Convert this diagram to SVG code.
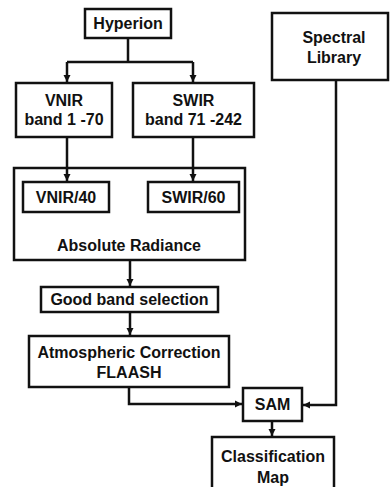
<svg xmlns="http://www.w3.org/2000/svg" width="391" height="487" viewBox="0 0 391 487">
<style>
.box{fill:#fff;stroke:#111;stroke-width:2.5}
.t{font-family:"Liberation Sans",Arial,sans-serif;font-weight:bold;font-size:16px;fill:#111;text-anchor:middle}
.c{fill:none;stroke:#111;stroke-width:2.5}
</style>
<defs>
<marker id="ah" markerUnits="userSpaceOnUse" markerWidth="8" markerHeight="8" refX="7" refY="4" orient="auto">
<path d="M0,0.5 L7,4 L0,7.5 z" fill="#111"/>
</marker>
</defs>
<rect width="391" height="487" fill="#fff"/>
<g id="absolute-radiance">
<rect class="box" x="14" y="168" width="231" height="92"/>
<text class="t" x="129" y="251">Absolute  Radiance</text>
</g>
<g id="connectors">
<path class="c" d="M128,38 V62 M67,62 H193"/>
<path class="c" d="M67,62 V82" marker-end="url(#ah)"/>
<path class="c" d="M193,62 V82" marker-end="url(#ah)"/>
<path class="c" d="M67,137 V181" marker-end="url(#ah)"/>
<path class="c" d="M193,137 V181" marker-end="url(#ah)"/>
<path class="c" d="M130,260 V286" marker-end="url(#ah)"/>
<path class="c" d="M130,312 V335" marker-end="url(#ah)"/>
<path class="c" d="M129,387 V404 H242" marker-end="url(#ah)"/>
<path class="c" d="M336,80 V405 H303" marker-end="url(#ah)"/>
<path class="c" d="M272,421 V436" marker-end="url(#ah)"/>
</g>
<g id="hyperion">
<rect class="box" x="85" y="9" width="86" height="29"/>
<text class="t" x="128" y="29">Hyperion</text>
</g>
<g id="vnir">
<rect class="box" x="16" y="83" width="96" height="54"/>
<text class="t" x="64" y="106">VNIR</text>
<text class="t" x="64" y="125">band 1 -70</text>
</g>
<g id="swir">
<rect class="box" x="133" y="83" width="121" height="54"/>
<text class="t" x="193.5" y="106">SWIR</text>
<text class="t" x="193.5" y="125">band 71 -242</text>
</g>
<g id="spectral-library">
<rect class="box" x="272" y="13" width="116" height="67"/>
<text class="t" x="334" y="43">Spectral</text>
<text class="t" x="334" y="63">Library</text>
</g>
<g id="vnir40">
<rect class="box" x="23" y="182" width="86" height="30"/>
<text class="t" x="66" y="203">VNIR/40</text>
</g>
<g id="swir60">
<rect class="box" x="148" y="182" width="91" height="30"/>
<text class="t" x="193.5" y="203">SWIR/60</text>
</g>
<g id="good-band">
<rect class="box" x="41" y="287" width="177" height="25"/>
<text class="t" x="129.5" y="305">Good band selection</text>
</g>
<g id="atmospheric">
<rect class="box" x="29" y="336" width="200" height="51"/>
<text class="t" x="129" y="358">Atmospheric Correction</text>
<text class="t" x="129" y="378">FLAASH</text>
</g>
<g id="sam">
<rect class="box" x="243" y="388" width="59" height="33"/>
<text class="t" x="272.5" y="410">SAM</text>
</g>
<g id="classification">
<rect class="box" x="212" y="437" width="122" height="60"/>
<text class="t" x="273" y="462">Classification</text>
<text class="t" x="273" y="483">Map</text>
</g>
</svg>
